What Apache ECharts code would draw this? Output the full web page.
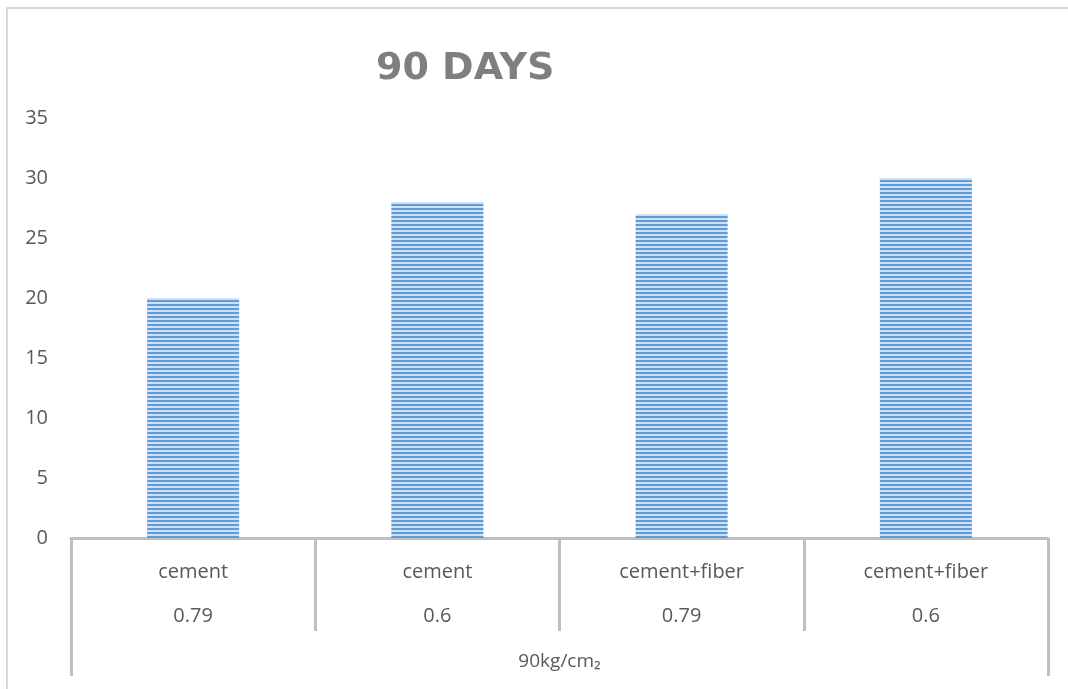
<!DOCTYPE html>
<html>
<head>
<meta charset="utf-8">
<script src="https://cdn.jsdelivr.net/npm/echarts@6/dist/echarts.min.js"></script>
<style>
html,body{margin:0;padding:0;background:#fff;}
#c{width:1068px;height:689px;}
</style>
</head>
<body>
<div id="c"></div>
<script>
const titleText = '90 DAYS';
const materials = ['cement', 'cement', 'cement+fiber', 'cement+fiber'];
const ratios = ['0.79', '0.6', '0.79', '0.6'];
const groupLabel = ['90kg/cm₂'];
const values = [20, 28, 27, 30];
const yTicks = { min: 0, max: 35, interval: 5 };

const cv = document.createElement('canvas');
cv.width = 4; cv.height = 4;
const g = cv.getContext('2d');
g.fillStyle = '#5f9bd8'; g.fillRect(0, 0, 4, 2);
g.fillStyle = '#cfe1f4'; g.fillRect(0, 2, 4, 2);

const chart = echarts.init(document.getElementById('c'), null, { renderer: 'canvas' });
const txt = '#595959';
const lineCol = '#bfbfbf';
const font = 'Open Sans';
chart.setOption({
  animation: false,
  title: {
    text: titleText,
    left: 371, top: 45,
    textStyle: { fontFamily: 'DejaVu Sans', fontWeight: 'bold', fontSize: 38, color: '#7f7f7f' }
  },
  grid: { left: 71, right: 20, top: 118, bottom: 151, containLabel: false },
  graphic: [{
    type: 'rect', silent: true, z: -1,
    shape: { x: 7, y: 8, width: 1100, height: 700 },
    style: { fill: 'none', stroke: '#d9d9d9', lineWidth: 2 }
  }],
  xAxis: [
    {
      type: 'category', data: materials, position: 'bottom', offset: 0,
      axisLine: { show: true, lineStyle: { color: lineCol, width: 3 } },
      axisTick: { show: true, interval: 0, length: 93, lineStyle: { color: lineCol, width: 3 } },
      axisLabel: { interval: 0, margin: 24, color: txt, fontFamily: font, fontSize: 20 }
    },
    {
      type: 'category', data: ratios, position: 'bottom', offset: 0,
      axisLine: { show: false }, axisTick: { show: false },
      axisLabel: { interval: 0, margin: 68, color: txt, fontFamily: font, fontSize: 20 }
    },
    {
      type: 'category', data: groupLabel, position: 'bottom', offset: 0,
      axisLine: { show: false },
      axisTick: { show: true, interval: 0, length: 138, lineStyle: { color: lineCol, width: 3 } },
      axisLabel: { interval: 0, margin: 114, color: txt, fontFamily: font, fontSize: 19 }
    }
  ],
  yAxis: {
    type: 'value', min: yTicks.min, max: yTicks.max, interval: yTicks.interval,
    axisLine: { show: false }, axisTick: { show: false }, splitLine: { show: false },
    axisLabel: { margin: 23, color: txt, fontFamily: font, fontSize: 20 }
  },
  series: [{
    type: 'bar', xAxisIndex: 0, data: values, barWidth: '37.7%',
    itemStyle: { color: { image: cv, repeat: 'repeat' } }
  }]
});
</script>
</body>
</html>
